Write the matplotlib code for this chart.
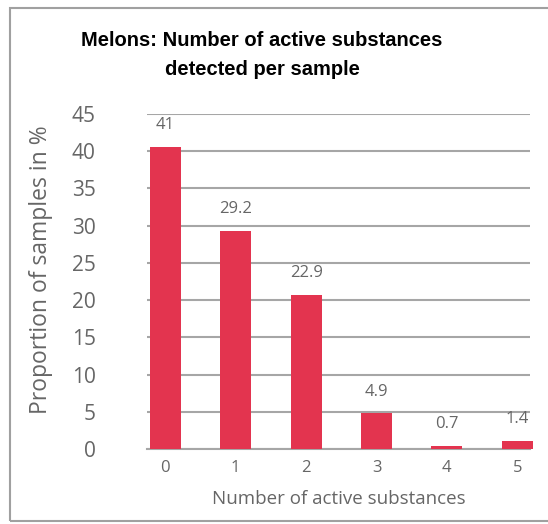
import matplotlib.pyplot as plt
from matplotlib.patches import Rectangle

# data
categories = ["0", "1", "2", "3", "4", "5"]
bar_heights = [40.6, 29.3, 20.7, 4.8, 0.4, 1.1]
value_labels = ["41", "29.2", "22.9", "4.9", "0.7", "1.4"]
y_ticks = [0, 5, 10, 15, 20, 25, 30, 35, 40, 45]

BAR_COLOR = "#E3344F"
GRID_COLOR = "#A6A6A6"
TEXT_COLOR = "#666666"

plt.rcParams["font.family"] = ["Open Sans", "DejaVu Sans"]

fig = plt.figure(figsize=(5.48, 5.24), dpi=100)

# chart frame
fig.patches.append(Rectangle((10 / 548, 3 / 524), 1.0, 513 / 524,
                             transform=fig.transFigure, fill=False,
                             edgecolor="#A0A0A0", linewidth=1.5))

ax = fig.add_axes([147 / 548, 75 / 524, 383 / 548, 335 / 524])

x = range(len(categories))
bars = ax.bar(x, bar_heights, width=0.44, color=BAR_COLOR, zorder=3, clip_on=False)

for rect, lab in zip(bars, value_labels):
    ax.annotate(lab, (rect.get_x() + rect.get_width() / 2, rect.get_height()),
                xytext=(0, 15.5), textcoords="offset points",
                ha="center", va="center", fontsize=12, color=TEXT_COLOR)

ax.set_xlim(-0.26, 5.18)
ax.set_ylim(0, 45)
ax.set_yticks(y_ticks)
ax.set_xticks(list(x))
ax.set_xticklabels(categories)

ax.yaxis.grid(True, color=GRID_COLOR, linewidth=1.5, zorder=0)
ax.set_axisbelow(True)
for side in ["top", "right", "left"]:
    ax.spines[side].set_visible(False)
ax.spines["bottom"].set_color(GRID_COLOR)
ax.spines["bottom"].set_linewidth(1.5)

ax.tick_params(axis="y", length=0, pad=37, labelsize=15, labelcolor=TEXT_COLOR)
ax.tick_params(axis="x", length=0, pad=8, labelsize=12, labelcolor=TEXT_COLOR)

ax.set_ylabel("Proportion of samples in %", fontsize=16.5, color=TEXT_COLOR)
ax.yaxis.set_label_coords(-0.277, 0.534)
ax.yaxis.label.set_verticalalignment("center")
ax.set_xlabel("Number of active substances", fontsize=13.5, color=TEXT_COLOR, labelpad=10)

fig.text(262 / 548, 1 - 55 / 524, "Melons: Number of active substances\ndetected per sample",
         ha="center", va="center", fontsize=14.5, fontweight="bold",
         family=["Liberation Sans", "DejaVu Sans"], linespacing=1.65)

fig.savefig("out.png", dpi=100)
